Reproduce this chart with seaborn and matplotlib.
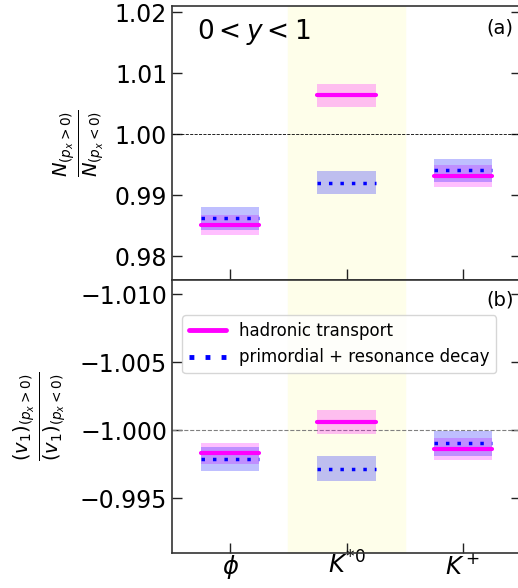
import numpy as np
import pandas as pd
import matplotlib
matplotlib.use('Agg')
import matplotlib.pyplot as plt
import seaborn as sns

# --- Data ---
particles = [r'$\phi$', r'$K^{*0}$', r'$K^+$']

# panel (a): N(px>0)/N(px<0)
n_hadronic = [0.98508, 1.00634, 0.99316]
n_hadronic_err = [0.0016, 0.0019, 0.0018]
n_primordial = [0.98623, 0.99202, 0.99410]
n_primordial_err = [0.0019, 0.0019, 0.0019]

# panel (b): v1(px>0)/v1(px<0)
v_hadronic = [-0.99828, -1.00059, -0.99858]
v_hadronic_err = [0.0008, 0.00085, 0.0008]
v_primordial = [-0.99787, -0.99716, -0.99902]
v_primordial_err = [0.0009, 0.0009, 0.0009]

HALF = 0.25
MAGENTA = '#ff00ff'
BLUE = '#0000ff'
FS = 17


def draw_series(ax, vals, errs, color, ls, lw, label):
    for i, (v, e) in enumerate(zip(vals, errs)):
        xs = np.array([i - HALF, i + HALF])
        ax.fill_between(xs, v - e, v + e, color=color, alpha=0.25, lw=0)
        df = pd.DataFrame({'x': xs, 'y': [v, v]})
        sns.lineplot(data=df, x='x', y='y', ax=ax, color=color, lw=lw,
                     linestyle=ls, label=label if i == 0 else None,
                     legend=False)


def style_axes(ax):
    ax.axvspan(0.5, 1.5, color='#fefeea', zorder=0)
    ax.set_xlim(-0.5, 2.5)
    ax.set_xticks(range(len(particles)))
    ax.set_xlabel('')
    for s in ax.spines.values():
        s.set_color('#333333')
        s.set_linewidth(1.2)
    ax.tick_params(axis='y', which='both', direction='in', left=True,
                   right=True, length=7, width=1, labelsize=FS)


sns.set_theme(style='ticks')
plt.rcParams['font.family'] = ['DejaVu Sans']
plt.rcParams['mathtext.fontset'] = 'dejavusans'
for key in ['text.color', 'axes.labelcolor', 'xtick.labelcolor', 'ytick.labelcolor']:
    plt.rcParams[key] = 'black'
plt.rcParams['xtick.color'] = '#222222'
plt.rcParams['ytick.color'] = '#222222'

fig = plt.figure(figsize=(5.18, 5.88), dpi=100)
ax1 = fig.add_axes([0.332, 0.5238, 0.674, 0.466])
ax2 = fig.add_axes([0.332, 0.0595, 0.674, 0.4643])

# --- panel (a) ---
style_axes(ax1)
ax1.axhline(1.0, color='black', ls='--', lw=0.6, zorder=1)
draw_series(ax1, n_hadronic, n_hadronic_err, MAGENTA, '-', 3, 'hadronic transport')
draw_series(ax1, n_primordial, n_primordial_err, BLUE, (0, (1, 2.3)), 2.5,
            'primordial + resonance decay')
ax1.set_ylim(0.9761, 1.021)
ax1.set_yticks([0.98, 0.99, 1.00, 1.01, 1.02])
ax1.set_yticklabels(['0.98', '0.99', '1.00', '1.01', '1.02'])
ax1.set_xticklabels([])
ax1.tick_params(axis='x', direction='inout', length=16, width=1)
ax1.set_ylabel(r'$\frac{N_{(p_x>0)}}{N_{(p_x<0)}}$', fontsize=20)
ax1.yaxis.set_label_coords(-0.19, 0.5)
ax1.text(0.072, 0.96, r'$0 < y < 1$', transform=ax1.transAxes,
         fontsize=19, ha='left', va='top')
ax1.text(0.978, 0.955, '(a)', transform=ax1.transAxes, fontsize=14,
         ha='right', va='top')

# --- panel (b) ---
style_axes(ax2)
ax2.axhline(-1.0, color='gray', ls='--', lw=0.8, zorder=1)
draw_series(ax2, v_hadronic, v_hadronic_err, MAGENTA, '-', 3, 'hadronic transport')
draw_series(ax2, v_primordial, v_primordial_err, BLUE, (0, (1, 2.3)), 2.5,
            'primordial + resonance decay')
ax2.set_ylim(-0.99096, -1.01103)
ax2.set_yticks([-1.010, -1.005, -1.000, -0.995])
ax2.set_yticklabels(['\u22121.010', '\u22121.005', '\u22121.000', '\u22120.995'])
ax2.set_xticklabels(particles, fontsize=17.5)
for lab in ax2.get_xticklabels():
    lab.set_verticalalignment('baseline')
ax2.tick_params(axis='x', direction='in', length=7, width=1, pad=15)
ax2.set_ylabel(r'$\frac{(v_1)_{(p_x>0)}}{(v_1)_{(p_x<0)}}$', fontsize=20)
ax2.yaxis.set_label_coords(-0.298, 0.5)
ax2.text(0.978, 0.96, '(b)', transform=ax2.transAxes, fontsize=14,
         ha='right', va='top')
leg = ax2.legend(loc='upper left', bbox_to_anchor=(0.03, 0.87), borderaxespad=0,
                 fontsize=12, handlelength=2.2)
for line in leg.get_lines():
    line.set_linewidth(3.5)

fig.savefig('out.png', dpi=100)
